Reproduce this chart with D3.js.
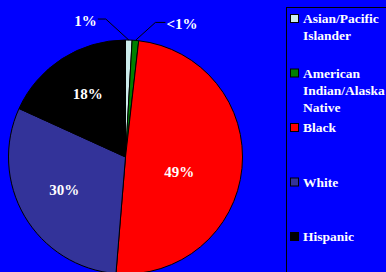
<!DOCTYPE html>
<html>
<head>
<meta charset="utf-8">
<script src="https://cdn.jsdelivr.net/npm/d3@7"></script>
<style>
html,body{margin:0;padding:0;background:#0000FF;overflow:hidden;}
svg{display:block;}
</style>
</head>
<body>
<script>
// ---- data ----
const categories = ["Asian/Pacific Islander", "American Indian/Alaska Native", "Black", "White", "Hispanic"];
const legendLines = [["Asian/Pacific", "Islander"], ["American", "Indian/Alaska", "Native"], ["Black"], ["White"], ["Hispanic"]];
const values = [0.9, 0.9, 49.5, 30.5, 18.2];
const labels = ["1%", "<1%", "49%", "30%", "18%"];
const colors = ["#CCECEC", "#008000", "#FF0000", "#333399", "#000000"];

// ---- layout ----
const W = 386, H = 272;
const cx = 125.5, cy = 157, R = 117;
const font = "'Liberation Serif','Times New Roman',serif";

const svg = d3.select("body").append("svg").attr("width", W).attr("height", H);
svg.append("rect").attr("width", W).attr("height", H).attr("fill", "#0000FF");

const pie = d3.pie().sort(null).value(d => d).startAngle(0).endAngle(2 * Math.PI);
const arcs = pie(values);
const arc = d3.arc().innerRadius(0).outerRadius(R);
const color = d3.scaleOrdinal().domain(d3.range(values.length)).range(colors);

const g = svg.append("g").attr("transform", `translate(${cx},${cy})`);
g.selectAll("path.slice").data(arcs).join("path")
  .attr("class", "slice")
  .attr("d", arc)
  .attr("fill", (d, i) => color(i))
  .attr("stroke", "#000")
  .attr("stroke-width", 1)
  .attr("stroke-linejoin", "round");

// inside labels (large slices)
const labelArc = d3.arc().innerRadius(70).outerRadius(70);
const nudge = {2: [-16, 8], 3: [-1, -3], 4: [0, -4]};
arcs.forEach((d, i) => {
  if (values[i] < 5) return;
  const c = labelArc.centroid(d);
  const n = nudge[i] || [0, 0];
  g.append("text")
    .attr("x", c[0] + n[0]).attr("y", c[1] + n[1])
    .attr("text-anchor", "middle").attr("dy", "0.35em")
    .attr("fill", "#fff").attr("font-family", font).attr("font-weight", "bold")
    .attr("font-size", 15).text(labels[i]);
});

// outside labels with leader lines (small slices)
const edgeArc = d3.arc().innerRadius(R).outerRadius(R);
const elbows = {0: {dx: -23, dy: -21, run: -8, anchor: "end"}, 1: {dx: 20, dy: -18, run: 10, anchor: "start"}};
arcs.forEach((d, i) => {
  if (values[i] >= 5) return;
  const p = edgeArc.centroid(d);
  const e = elbows[i];
  const p1 = [p[0] + e.dx, p[1] + e.dy];
  const p2 = [p1[0] + e.run, p1[1]];
  g.append("polyline")
    .attr("points", [p, p1, p2].map(q => q.join(",")).join(" "))
    .attr("fill", "none").attr("stroke", "#000").attr("stroke-width", 1);
  g.append("text")
    .attr("x", p2[0] + (e.anchor === "end" ? -1 : 1)).attr("y", p2[1] + 6.5)
    .attr("text-anchor", e.anchor)
    .attr("fill", "#fff").attr("font-family", font).attr("font-weight", "bold")
    .attr("font-size", 15).text(labels[i]);
});

// legend
const lx = 286, ly = 7;
svg.append("rect").attr("x", lx + 0.5).attr("y", ly + 0.5)
  .attr("width", W).attr("height", H)
  .attr("fill", "#0000FF").attr("stroke", "#000").attr("stroke-width", 1);
const legY = d3.scalePoint().domain(d3.range(categories.length)).range([14, 232]);
categories.forEach((c, i) => {
  const y = legY(i);
  svg.append("rect").attr("x", 290.5).attr("y", y + 0.5).attr("width", 8).attr("height", 8)
    .attr("fill", color(i)).attr("stroke", "#000").attr("stroke-width", 1);
  const t = svg.append("text").attr("x", 303).attr("y", y + 9)
    .attr("fill", "#fff").attr("font-family", font).attr("font-weight", "bold")
    .attr("font-size", 13.5);
  legendLines[i].forEach((line, j) => {
    t.append("tspan").attr("x", 303).attr("y", y + 9 + j * 17.3).text(line);
  });
});
</script>
</body>
</html>
